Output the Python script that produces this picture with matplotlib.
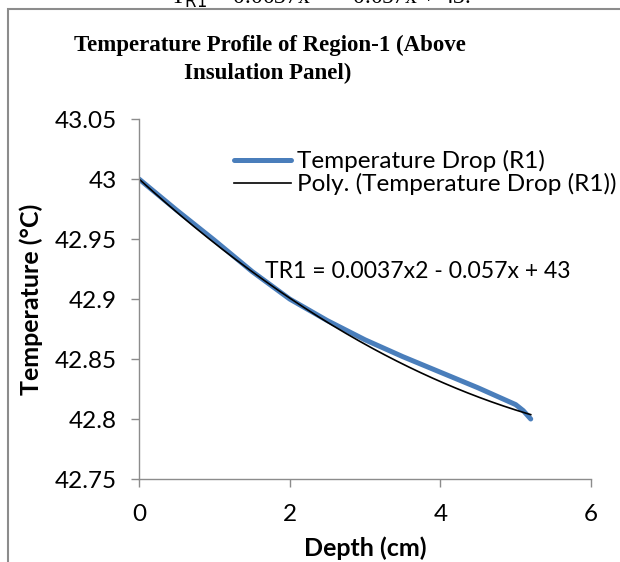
import numpy as np
import matplotlib.pyplot as plt
from matplotlib.patches import Rectangle

# measured temperature drop, region 1
depth = [0.0, 0.5, 1.0, 1.5, 2.0, 2.5, 3.0, 3.5, 4.0, 4.5, 5.0, 5.1, 5.2]
temp = [43.0, 42.974, 42.949, 42.923, 42.900, 42.882, 42.866, 42.852, 42.839, 42.826, 42.812, 42.807, 42.800]

# poly trendline as printed on the chart
coef = [0.0037, -0.057, 43.0]

xticks = [0, 2, 4, 6]
yticks = [42.75, 42.8, 42.85, 42.9, 42.95, 43.0, 43.05]
ylabels = ['42.75', '42.8', '42.85', '42.9', '42.95', '43', '43.05']

W, H = 620, 562
fig = plt.figure(figsize=(W / 100, H / 100), dpi=100)
ax = fig.add_axes([139 / W, 1 - 479 / H, (591 - 139) / W, (479 - 119) / H])

ax.plot(depth, temp, color='#4A7EBB', lw=3.6, solid_capstyle='round',
        label='Temperature Drop (R1)')
xs = np.linspace(depth[0], depth[-1], 200)
ax.plot(xs, np.polyval(coef, xs), color='black', lw=1.2,
        label='Poly. (Temperature Drop (R1))')

ax.set_xlim(0, 6)
ax.set_ylim(42.75, 43.05)
ax.set_xticks(xticks)
ax.set_yticks(yticks)
ax.set_yticklabels(ylabels)

font = 'Lato'
for s in ['top', 'right']:
    ax.spines[s].set_visible(False)
for s in ['left', 'bottom']:
    ax.spines[s].set_color('#8c8c8c')
    ax.spines[s].set_linewidth(1.0)
ax.tick_params(direction='out', length=6, width=1.0, color='#8c8c8c',
               labelsize=17.5)
ax.tick_params(axis='y', pad=10)
ax.tick_params(axis='x', pad=12)
for t in ax.get_xticklabels() + ax.get_yticklabels():
    t.set_fontfamily(font)

ax.set_xlabel('Depth (cm)', fontsize=18, fontweight='bold', family=font, labelpad=8)
ax.set_ylabel('Temperature (°C)', fontsize=18, fontweight='bold', family=font, labelpad=8)

leg = ax.legend(loc='upper left', bbox_to_anchor=(234 / W, 1 - 150 / H),
                bbox_transform=fig.transFigure, frameon=False,
                handlelength=2.35, handletextpad=0.25, labelspacing=0.05,
                borderpad=0, borderaxespad=0, prop={'family': font, 'size': 17.5})

fig.text(265 / W, 1 - 272 / H, 'TR1 = 0.0037x2 - 0.057x + 43', ha='left',
         va='center', fontsize=16.6, family=font)

fig.text(270 / W, 1 - 45 / H, 'Temperature Profile of Region-1 (Above',
         ha='center', va='center', fontsize=16.5, fontweight='bold',
         family='Liberation Serif')
fig.text(268 / W, 1 - 73 / H, 'Insulation Panel)',
         ha='center', va='center', fontsize=16.5, fontweight='bold',
         family='Liberation Serif')

# cut-off equation line from the page above the chart
fig.text(320 / W, 1 - 4 / H, r'T$_{\rm R1}$ = 0.0037x$^2$ $-$ 0.057x + 43.',
         ha='center', va='baseline', fontsize=17, family='Liberation Serif')

# chart frame (left and top edges visible)
fig.patches.append(Rectangle((8 / W, -0.1), 1.2, 1 - 9 / H + 0.1,
                             transform=fig.transFigure, fill=False,
                             edgecolor='#8c8c8c', lw=1.5))

fig.savefig('out.png', dpi=100)
